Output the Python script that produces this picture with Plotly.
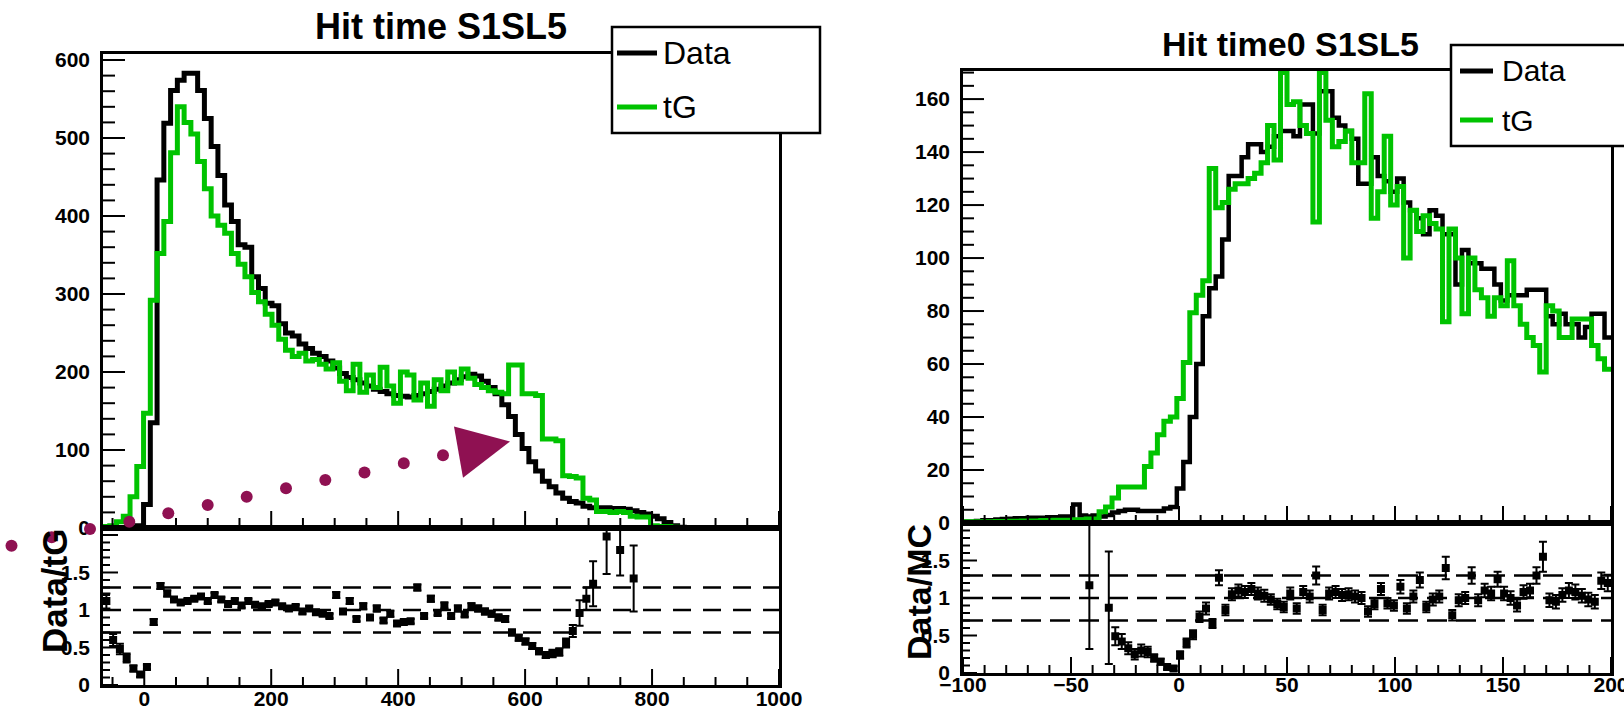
import numpy as np
import plotly.graph_objects as go

W, H = 1624, 710

# ---------------- Hit time S1SL5 (100 bins over [-65, 1000] ns) ----------------
L_XMIN, L_XMAX, L_NBINS = -65.0, 1000.0, 100
left_data = [0, 0, 0, 0, 0, 3, 30, 135, 446, 519,
             561, 574, 583, 583, 561, 525, 489, 452, 414, 393,
             363, 360, 322, 307, 288, 285, 262, 250, 246, 236,
             230, 224, 220, 214, 205, 198, 193, 190, 186, 182,
             178, 175, 172, 170, 169, 168, 170, 172, 175, 178,
             182, 186, 190, 194, 197, 195, 188, 180, 172, 158,
             143, 120, 102, 85, 73, 60, 53, 45, 38, 34,
             32, 28, 26, 26, 26, 25, 25, 24, 22, 20,
             18, 15, 12, 7, 3, 1, 0, 0, 0, 0,
             0, 0, 0, 0, 0, 0, 0, 0, 0, 0]
left_tg = [2, 3, 8, 15, 40, 79, 147, 292, 352, 393,
           481, 540, 520, 505, 470, 435, 400, 388, 378, 352,
           338, 322, 302, 290, 274, 260, 242, 228, 220, 224,
           214, 216, 210, 204, 212, 188, 176, 210, 174, 196,
           180, 206, 182, 160, 200, 196, 164, 186, 156, 190,
           176, 200, 186, 204, 192, 184, 180, 176, 174, 172,
           209, 209, 172, 172, 170, 114, 114, 112, 67, 66,
           64, 38, 36, 21, 21, 20, 21, 20, 15, 14,
           14, 3, 2, 2, 1, 0, 0, 0, 0, 0,
           0, 0, 0, 0, 0, 0, 0, 0, 0, 0]
left_ratio = [1.12, 0.60, 0.48, 0.36, 0.22, 0.14, 0.24, 0.84, 1.32, 1.22,
              1.14, 1.10, 1.12, 1.15, 1.18, 1.12, 1.20, 1.14, 1.08, 1.12,
              1.06, 1.12, 1.07, 1.05, 1.08, 1.10, 1.05, 1.02, 1.04, 0.98,
              1.02, 0.97, 0.95, 0.92, 1.20, 0.98, 1.12, 0.88, 1.05, 0.90,
              1.02, 0.86, 0.95, 0.82, 0.84, 0.85, 1.30, 0.92, 1.15, 0.96,
              1.06, 0.92, 1.02, 0.94, 1.05, 1.02, 0.98, 0.95, 0.90, 0.88,
              0.70, 0.63, 0.58, 0.52, 0.45, 0.40, 0.42, 0.44, 0.56, 0.72,
              0.96, 1.15, 1.35, None, 1.98, None, 1.80, None, 1.42, None,
              None, None, None, None, None, None, None, None, None, None,
              None, None, None, None, None, None, None, None, None, None]
left_ratio_err = [0.10, 0.08, 0.07, 0.06, 0.04, 0.03, 0.03, 0.04, 0.04, 0.04,
                  0.03, 0.03, 0.03, 0.03, 0.03, 0.03, 0.03, 0.03, 0.03, 0.03,
                  0.03, 0.03, 0.03, 0.03, 0.03, 0.03, 0.03, 0.03, 0.03, 0.03,
                  0.03, 0.03, 0.03, 0.03, 0.04, 0.03, 0.04, 0.03, 0.04, 0.03,
                  0.04, 0.03, 0.04, 0.03, 0.03, 0.03, 0.04, 0.03, 0.04, 0.03,
                  0.04, 0.03, 0.04, 0.03, 0.04, 0.04, 0.04, 0.04, 0.04, 0.04,
                  0.04, 0.04, 0.04, 0.04, 0.04, 0.04, 0.05, 0.05, 0.06, 0.08,
                  0.17, 0.15, 0.30, 0.0, 0.50, 0.0, 0.34, 0.0, 0.44, 0.0,
                  0, 0, 0, 0, 0, 0, 0, 0, 0, 0,
                  0, 0, 0, 0, 0, 0, 0, 0, 0, 0]

# ---------------- Hit time0 S1SL5 (100 bins over [-100, 200] ns) ----------------
R_XMIN, R_XMAX, R_NBINS = -100.0, 200.0, 100
right_data = [0.5, 0.5, 0.8, 1.0, 1.0, 1.3, 1.5, 1.6, 1.8, 1.8,
              2.0, 2.0, 2.0, 2.2, 2.2, 2.5, 2.5, 7.0, 2.8, 2.5,
              2.8, 2.5, 3.0, 4.0, 4.5, 5.0, 5.0, 4.5, 4.5, 4.5,
              4.5, 5.5, 6.0, 13, 23, 40, 60, 78, 88.6, 93,
              107, 131, 131, 138, 143, 143, 140, 142, 146, 148,
              148, 146, 158, 158, 147, 163, 163, 153, 150, 148,
              145, 128, 128, 138, 131, 129, 125, 130, 121, 118,
              115, 109, 118, 116, 109, 109, 90, 103, 98, 98,
              96, 96, 90, 84, 86, 86, 86, 88, 88, 88,
              78, 75, 79, 75, 75, 70, 74, 79, 79, 70]
right_tg = [0.5, 0.5, 0.5, 0.5, 0.5, 0.6, 0.6, 0.7, 0.7, 0.8,
            0.8, 0.8, 0.9, 0.9, 1.0, 1.0, 1.0, 1.2, 1.2, 1.5,
            1.5, 4.2, 6.0, 9.4, 13.6, 13.6, 13.6, 13.6, 21.3, 26.4,
            33.3, 38.4, 40.0, 47.0, 60.6, 79.4, 86.0, 91.4, 133.8, 119,
            121, 126, 128, 128, 130, 132, 136, 150, 137, 170,
            158, 159, 150, 147, 113.6, 170, 152, 142, 144, 148,
            136, 136, 162, 115, 125, 146, 120, 127, 100, 118,
            110, 116, 113, 111, 76, 111, 100, 79, 100, 88,
            85, 78, 85, 82, 99, 82, 75, 70, 67, 57,
            82, 80, 70, 70, 77, 77, 77, 67, 62, 58]
right_ratio = [None] * 19 + [1.17, None, None, 0.87, 0.49, 0.42, 0.33, 0.25, 0.30, 0.28, 0.20,
               0.15, 0.08, 0.06, 0.24, 0.40, 0.51, 0.75, 0.86, 0.66, 1.27,
               0.84, 1.05, 1.10, 1.08, 1.12, 1.06, 1.03, 0.98, 0.92, 0.88,
               1.06, 0.86, 1.08, 1.02, 1.30, 0.84, 1.06, 1.08, 1.04, 1.05,
               1.02, 1.00, 0.82, 0.92, 1.12, 0.93, 0.90, 1.15, 0.86, 1.02,
               1.24, 0.88, 0.98, 1.02, 1.40, 0.77, 0.97, 1.00, 1.30, 0.97,
               1.10, 1.06, 1.25, 1.06, 1.00, 0.90, 1.08, 1.10, 1.30, 1.55,
               0.97, 0.95, 1.04, 1.10, 1.08, 1.03, 0.98, 0.95, 1.23, 1.20]
right_ratio_err = [0.0] * 19 + [0.85, 0.0, 0.0, 0.75, 0.12, 0.10, 0.08, 0.07, 0.08, 0.07, 0.05,
                   0.04, 0.03, 0.03, 0.05, 0.06, 0.06, 0.07, 0.08, 0.06, 0.10,
                   0.07, 0.08, 0.08, 0.08, 0.08, 0.08, 0.08, 0.07, 0.07, 0.07,
                   0.08, 0.07, 0.08, 0.08, 0.12, 0.07, 0.08, 0.08, 0.08, 0.08,
                   0.08, 0.08, 0.07, 0.07, 0.08, 0.07, 0.07, 0.09, 0.07, 0.08,
                   0.10, 0.07, 0.08, 0.08, 0.15, 0.07, 0.08, 0.08, 0.11, 0.08,
                   0.09, 0.09, 0.10, 0.09, 0.09, 0.08, 0.09, 0.09, 0.11, 0.20,
                   0.09, 0.09, 0.09, 0.10, 0.10, 0.09, 0.09, 0.09, 0.11, 0.11]

ratio_guides = [0.7, 1.0, 1.3]

# ---------------- helpers ----------------
def px(x):
    return x / W


def py(y):
    return 1 - y / H


def edges_centers(xmin, xmax, n):
    e = np.linspace(xmin, xmax, n + 1)
    return e, 0.5 * (e[:-1] + e[1:])


def step(edges, vals):
    return list(edges), list(vals) + [vals[-1]]


FONT = "Liberation Sans, Arial, Helvetica, sans-serif"
BLACK = "#000000"
GREEN = "#00c300"
PURPLE = "#8f1152"

fig = go.Figure()

l_edges, l_cent = edges_centers(L_XMIN, L_XMAX, L_NBINS)
r_edges, r_cent = edges_centers(R_XMIN, R_XMAX, R_NBINS)

# left histograms
x, y = step(l_edges, left_data)
fig.add_trace(go.Scatter(x=x, y=y, mode="lines", line=dict(color=BLACK, width=5, shape="hv"),
                         xaxis="x", yaxis="y", showlegend=False))
x, y = step(l_edges, left_tg)
fig.add_trace(go.Scatter(x=x, y=y, mode="lines", line=dict(color=GREEN, width=5, shape="hv"),
                         xaxis="x", yaxis="y", showlegend=False))
# left ratio guides and points
for g in ratio_guides:
    fig.add_trace(go.Scatter(x=[L_XMIN, L_XMAX], y=[g, g], mode="lines",
                             line=dict(color=BLACK, width=2.5, dash="18px,12px"),
                             xaxis="x2", yaxis="y2", showlegend=False))
fig.add_trace(go.Scatter(x=l_cent, y=left_ratio, mode="markers",
                         marker=dict(symbol="square", size=8, color=BLACK),
                         error_y=dict(type="data", array=left_ratio_err, color=BLACK, thickness=2, width=4),
                         xaxis="x2", yaxis="y2", showlegend=False))

# right histograms
x, y = step(r_edges, right_data)
fig.add_trace(go.Scatter(x=x, y=y, mode="lines", line=dict(color=BLACK, width=4.5, shape="hv"),
                         xaxis="x3", yaxis="y3", showlegend=False))
x, y = step(r_edges, right_tg)
fig.add_trace(go.Scatter(x=x, y=y, mode="lines", line=dict(color=GREEN, width=5, shape="hv"),
                         xaxis="x3", yaxis="y3", showlegend=False))
for g in ratio_guides:
    fig.add_trace(go.Scatter(x=[R_XMIN, R_XMAX], y=[g, g], mode="lines",
                             line=dict(color=BLACK, width=2.5, dash="20px,9px"),
                             xaxis="x4", yaxis="y4", showlegend=False))
fig.add_trace(go.Scatter(x=r_cent, y=right_ratio, mode="markers",
                         marker=dict(symbol="square", size=8, color=BLACK),
                         error_y=dict(type="data", array=right_ratio_err, color=BLACK, thickness=2, width=4),
                         xaxis="x4", yaxis="y4", showlegend=False))

tickfont = dict(family=FONT, size=21, color=BLACK, weight="bold")


def axis(**kw):
    base = dict(showline=True, linecolor=BLACK, linewidth=2.5, mirror=True,
                showgrid=False, zeroline=False, ticks="", tickfont=tickfont,
                fixedrange=True, automargin=False)
    base.update(kw)
    return base


# pixel frames of the four pads: (left, right, top, bottom)
PADS = {
    "L_top": (103, 779, 54, 528),
    "L_rat": (103, 779, 528, 685),
    "R_top": (963, 1611, 71, 523),
    "R_rat": (963, 1611, 523, 673),
}


def dom_x(p):
    return [px(PADS[p][0]), px(PADS[p][1])]


def dom_y(p):
    return [py(PADS[p][3]), py(PADS[p][2])]


fig.update_layout(
    template="none",
    width=W, height=H,
    margin=dict(l=0, r=0, t=0, b=0, pad=0),
    paper_bgcolor="white", plot_bgcolor="rgba(0,0,0,0)",
    showlegend=False,
    xaxis=axis(domain=dom_x("L_top"), range=[L_XMIN, L_XMAX], anchor="y", showticklabels=False),
    yaxis=axis(domain=dom_y("L_top"), range=[0, 607.7], anchor="x",
               tickvals=[0, 100, 200, 300, 400, 500, 600], ticklabelstandoff=6),
    xaxis2=axis(domain=dom_x("L_rat"), range=[L_XMIN, L_XMAX], anchor="y2",
                tickvals=[0, 200, 400, 600, 800, 1000], ticklabelstandoff=-7,
                ticklabeloverflow="allow"),
    yaxis2=axis(domain=dom_y("L_rat"), range=[0, 2.093], anchor="x2",
                tickvals=[0, 0.5, 1, 1.5], ticktext=["0", "0.5", "1", "1.5"], ticklabelstandoff=6),
    xaxis3=axis(domain=dom_x("R_top"), range=[R_XMIN, R_XMAX], anchor="y3", showticklabels=False),
    yaxis3=axis(domain=dom_y("R_top"), range=[0, 170.6], anchor="x3",
                tickvals=[0, 20, 40, 60, 80, 100, 120, 140, 160], ticklabelstandoff=6),
    xaxis4=axis(domain=dom_x("R_rat"), range=[R_XMIN, R_XMAX], anchor="y4",
                tickvals=[-100, -50, 0, 50, 100, 150, 200],
                ticktext=["\u2212100", "\u221250", "0", "50", "100", "150", "200"],
                ticklabelstandoff=-9, ticklabeloverflow="allow"),
    yaxis4=axis(domain=dom_y("R_rat"), range=[0, 2.0], anchor="x4",
                tickvals=[0, 0.5, 1, 1.5], ticktext=["0", "0.5", "1", "1.5"], ticklabelstandoff=6),
)

shapes = []
annotations = []


# inside tick marks, drawn from the axis line into the pad
def x_ticks(pad, xa, lo, hi, major, minor, len_major, len_minor):
    h = PADS[pad][3] - PADS[pad][2]
    for v in np.arange(np.ceil(lo / minor) * minor, hi + 1e-9, minor):
        is_major = abs(v / major - round(v / major)) < 1e-6
        ln = (len_major if is_major else len_minor) / h
        shapes.append(dict(type="line", xref=xa, yref=f"{'y' + xa[1:]} domain", layer="above",
                           x0=v, x1=v, y0=0, y1=ln, line=dict(color=BLACK, width=2)))


def y_ticks(pad, ya, lo, hi, major, minor, len_major, len_minor):
    w = PADS[pad][1] - PADS[pad][0]
    for v in np.arange(lo, hi + 1e-9, minor):
        is_major = abs(v / major - round(v / major)) < 1e-6
        ln = (len_major if is_major else len_minor) / w
        shapes.append(dict(type="line", xref=f"{'x' + ya[1:]} domain", yref=ya, layer="above",
                           x0=0, x1=ln, y0=v, y1=v, line=dict(color=BLACK, width=2)))


x_ticks("L_top", "x", L_XMIN, L_XMAX, 200, 50, 17, 10)
x_ticks("L_rat", "x2", L_XMIN, L_XMAX, 200, 50, 16, 8)
y_ticks("L_top", "y", 0, 607, 100, 20, 22, 12)
y_ticks("L_rat", "y2", 0, 2.0, 0.5, 0.1, 15, 7)
x_ticks("R_top", "x3", R_XMIN, R_XMAX, 50, 10, 17, 8)
x_ticks("R_rat", "x4", R_XMIN, R_XMAX, 50, 10, 16, 8)
y_ticks("R_top", "y3", 0, 170, 20, 5, 21, 11)
y_ticks("R_rat", "y4", 0, 2.0, 0.5, 0.1, 14, 7)


def text(x, y, s, size, bold=False, xanchor="center", angle=0):
    annotations.append(dict(x=px(x), y=py(y), xref="paper", yref="paper", text=s,
                            showarrow=False, xanchor=xanchor, yanchor="middle", textangle=angle,
                            font=dict(family=FONT, size=size, color=BLACK,
                                      weight="bold" if bold else "normal")))


# titles
text(441, 27, "Hit time S1SL5", 36, bold=True)
text(1290, 44, "Hit time0 S1SL5", 34, bold=True)
# ratio axis titles
text(54, 591, "Data/tG", 35, bold=True, angle=-90)
text(919, 592, "Data/MC", 34, bold=True, angle=-90)


def legend_box(x0, y0, x1, y1, lx0, lx1, ys, labels, size, tx):
    shapes.append(dict(type="rect", xref="paper", yref="paper", layer="above",
                       x0=px(x0), x1=px(x1), y0=py(y1), y1=py(y0),
                       line=dict(color=BLACK, width=2.5), fillcolor="white"))
    for (yy, col, lab) in zip(ys, [BLACK, GREEN], labels):
        shapes.append(dict(type="line", xref="paper", yref="paper", layer="above",
                           x0=px(lx0), x1=px(lx1), y0=py(yy), y1=py(yy),
                           line=dict(color=col, width=5)))
        text(tx, yy, lab, size, xanchor="left")


legend_box(612, 27, 820, 133, 617, 657, [53, 107], ["Data", "tG"], 32, 661)
legend_box(1451, 45, 1660, 146, 1460, 1493, [71, 120], ["Data", "tG"], 30, 1500)

# dotted pointer with arrow head on the left panel
pointer_dots = [(11.5, 545.7), (51.7, 537.3), (90, 529), (129.3, 521.7), (168.3, 513.3),
                (207.7, 505), (246.7, 496.7), (286, 488.2), (325.3, 480), (364.5, 472.4),
                (403.8, 463.3), (443, 455.2)]
r = 6
for cx, cy in pointer_dots:
    shapes.append(dict(type="circle", xref="paper", yref="paper", layer="above",
                       x0=px(cx - r), x1=px(cx + r), y0=py(cy + r), y1=py(cy - r),
                       fillcolor=PURPLE, line=dict(width=0)))
head = [(454, 426.6), (510, 441.6), (463, 477.8)]
path = "M " + " L ".join(f"{px(a):.5f},{py(b):.5f}" for a, b in head) + " Z"
shapes.append(dict(type="path", xref="paper", yref="paper", layer="above", path=path,
                   fillcolor=PURPLE, line=dict(width=0)))

fig.update_layout(shapes=shapes, annotations=annotations)
fig.write_html("out.html")
